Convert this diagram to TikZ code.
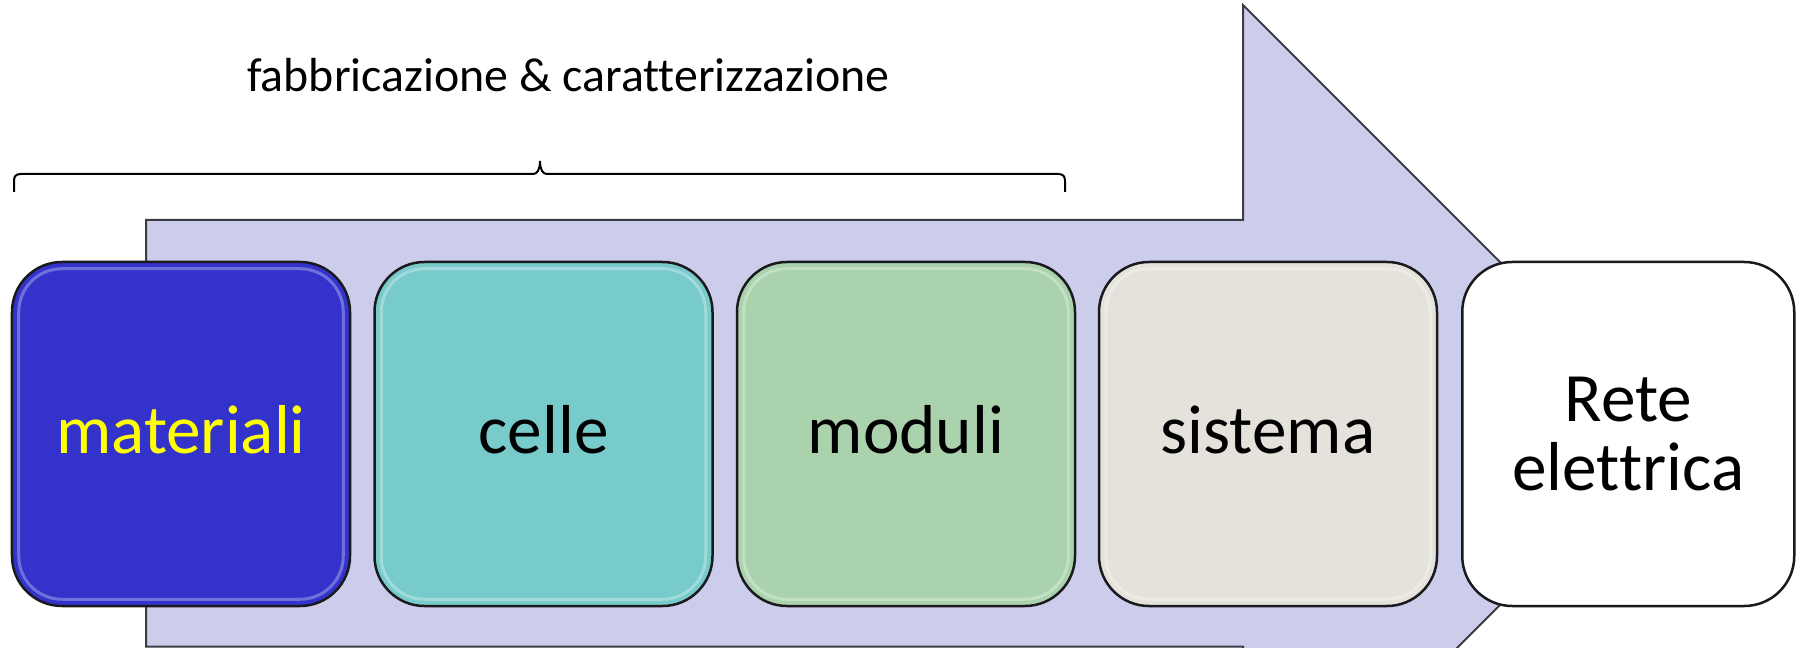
\documentclass[tikz,border=0pt]{standalone}
\usepackage{fontspec}
\setmainfont{Carlito}[Ligatures={NoCommon}]
\definecolor{arrowfill}{RGB}{204,204,235}
\definecolor{arrowline}{RGB}{60,60,70}
\definecolor{boxline}{RGB}{25,25,30}
\definecolor{matfill}{RGB}{51,51,204}
\definecolor{celfill}{RGB}{119,203,202}
\definecolor{modfill}{RGB}{170,211,173}
\definecolor{sisfill}{RGB}{228,226,218}
\definecolor{matext}{RGB}{255,255,0}
\begin{document}
\begin{tikzpicture}[x=1bp,y=-1bp,
  stage/.style={draw=boxline, line width=2.5bp, rounded corners=50bp,
    minimum width=338bp, minimum height=344bp, inner sep=0pt,
    font=\fontsize{69.5}{69}\selectfont},
  oneline/.style={text height=45bp, text depth=7bp},
  gloss/.style={draw=white, draw opacity=0.3, line width=3bp, rounded corners=43bp},
  flow/.style={fill=arrowfill, draw=arrowline, line width=2bp, line join=miter},
  bracket/.style={draw=black, line width=2bp},
  caption/.style={font=\fontsize{48}{56}\selectfont, anchor=base}]
\useasboundingbox (0,0) rectangle (1796,648);
\clip (0,0) rectangle (1796,648);

% process arrow behind the stages
\path[flow] (146,220) -- (1243,220) -- (1243,5) -- (1671.5,433.5)
  -- (1243,862) -- (1243,646.5) -- (146,646.5) -- cycle;

% stages
\node[stage, oneline, fill=matfill, text=matext] (mat) at (181,434) {materiali};
\node[stage, oneline, fill=celfill] (cel) at (543.5,434) {celle};
\node[stage, oneline, fill=modfill] (mod) at (906,434) {moduli};
\node[stage, oneline, fill=sisfill] (sis) at (1268,434) {sistema};
\node[stage, fill=white, minimum width=332bp, align=center] (rete) at (1628.25,434) {Rete\\elettrica};

% glossy bevel inside the coloured stages
\foreach \n in {mat,cel,mod,sis}
  \draw[gloss] ([shift={(8,8)}]\n.north west) rectangle ([shift={(-8,-8)}]\n.south east);

% brace over the first three stages
\coordinate (bl) at (14,192);
\coordinate (bm) at (540,161);
\coordinate (br) at (1065,192);
\draw[bracket] (bl) -- (14,181) .. controls (14,176) and (16,174) .. (21,174)
  -- (533,174) .. controls (537,174) and (540,170) .. (bm)
  .. controls (540,170) and (543,174) .. (547,174)
  -- (1058,174) .. controls (1063,174) and (1065,176) .. (1065,181) -- (br);

\node[caption] (title) at (568.5,91.7) {fabbricazione \& caratterizzazione};
\end{tikzpicture}
\end{document}
